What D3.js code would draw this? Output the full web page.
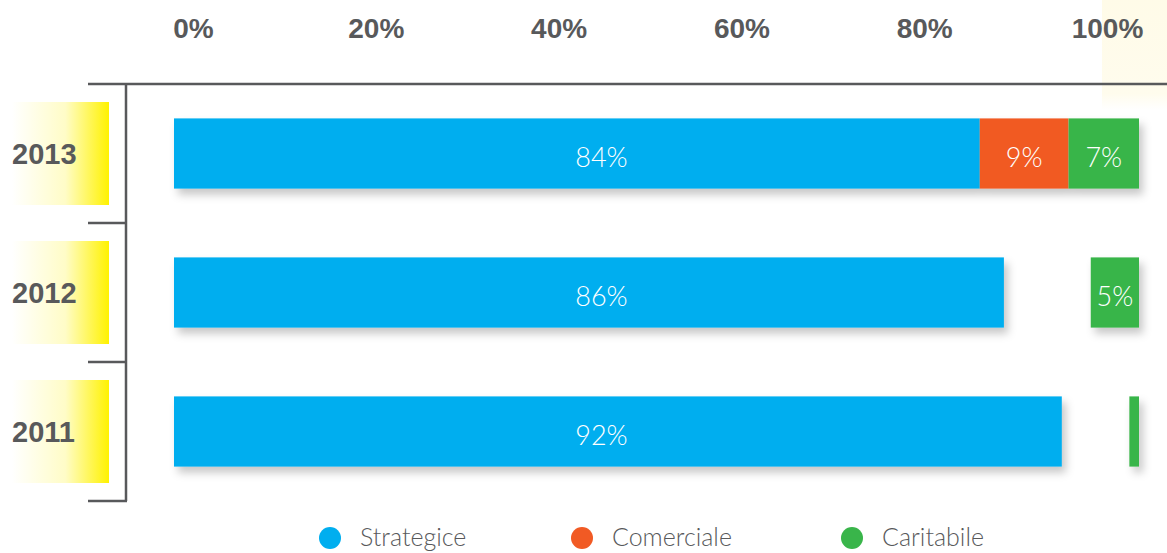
<!DOCTYPE html>
<html><head><meta charset="utf-8">
<script src="https://cdn.jsdelivr.net/npm/d3@7"></script>
<style>html,body{margin:0;padding:0;background:#fff;}svg{display:block;}</style>
</head><body>
<script>
const years = ["2013", "2012", "2011"];
const strategice = [83.5, 86, 92];
const comerciale = [9.2, 0, 0];
const caritabile = [7.3, 5, 1];
const tickValues = [0, 20, 40, 60, 80, 100];
const seriesNames = ["Strategice", "Comerciale", "Caritabile"];
const colors = ["#00aeef", "#f15a24", "#39b54a"];

const W = 1167, H = 553;
const gray = "#58595b";
const svg = d3.select("body").append("svg").attr("width", W).attr("height", H);
const defs = svg.append("defs");
const grad = defs.append("linearGradient").attr("id", "yel").attr("x1", 0).attr("x2", 1).attr("y1", 0).attr("y2", 0);
grad.append("stop").attr("offset", "0%").attr("stop-color", "#fff200").attr("stop-opacity", 0);
grad.append("stop").attr("offset", "55%").attr("stop-color", "#fff200").attr("stop-opacity", 0.22);
grad.append("stop").attr("offset", "100%").attr("stop-color", "#fff200").attr("stop-opacity", 1);
const grad2 = defs.append("linearGradient").attr("id", "yel2").attr("x1", 0).attr("x2", 0).attr("y1", 0).attr("y2", 1);
grad2.append("stop").attr("offset", "0%").attr("stop-color", "#fff6cc").attr("stop-opacity", 0.45);
grad2.append("stop").attr("offset", "85%").attr("stop-color", "#fff6cc").attr("stop-opacity", 0.35);
grad2.append("stop").attr("offset", "100%").attr("stop-color", "#fff6cc").attr("stop-opacity", 0);
const f = defs.append("filter").attr("id", "sh").attr("x", "-10%").attr("y", "-30%").attr("width", "130%").attr("height", "180%");
f.append("feDropShadow").attr("dx", 4).attr("dy", 6).attr("stdDeviation", 4).attr("flood-color", "#000").attr("flood-opacity", 0.22);

// scales
const x = d3.scaleLinear().domain([0, 100]).range([174, 1139]);
const xAxisScale = d3.scaleLinear().domain([0, 100]).range([193, 1107]);
const y = d3.scaleBand().domain(years).range([84, 501]).padding(0);
const barH = y.bandwidth() * 0.505;

// pale yellow decoration top right
svg.append("rect").attr("x", 1102).attr("y", 0).attr("width", W - 1102).attr("height", 110).attr("fill", "url(#yel2)");

// top axis labels
const axis = d3.axisTop(xAxisScale).tickValues(tickValues).tickFormat(d => d + "%").tickSize(0).tickPadding(0);
const ag = svg.append("g").attr("transform", "translate(0,38)").call(axis);
ag.select(".domain").remove();
ag.selectAll("text").attr("fill", gray).attr("font-family", "'Liberation Sans', Arial, sans-serif")
  .attr("font-weight", "bold").attr("font-size", 28).attr("dy", 0);

// yellow boxes behind years
svg.selectAll("rect.yb").data(years).enter().append("rect").attr("class", "yb")
  .attr("x", 12).attr("width", 97)
  .attr("y", d => y(d) + y.bandwidth() / 2 - 51.5).attr("height", 103)
  .attr("fill", "url(#yel)");

// year labels
svg.selectAll("text.yr").data(years).enter().append("text").attr("class", "yr")
  .attr("x", 12).attr("y", d => y(d) + y.bandwidth() / 2 + 10)
  .attr("fill", gray).attr("font-family", "'Liberation Sans', Arial, sans-serif")
  .attr("font-weight", "bold").attr("font-size", 29).text(d => d);

// frame lines
svg.append("line").attr("x1", 88).attr("x2", W).attr("y1", 84).attr("y2", 84).attr("stroke", gray).attr("stroke-width", 2.5);
svg.append("line").attr("x1", 126).attr("x2", 126).attr("y1", 84).attr("y2", 501).attr("stroke", gray).attr("stroke-width", 2.5);
svg.selectAll("line.tk").data(years).enter().append("line").attr("class", "tk")
  .attr("x1", 88).attr("x2", 127).attr("y1", d => y(d) + y.bandwidth()).attr("y2", d => y(d) + y.bandwidth())
  .attr("stroke", gray).attr("stroke-width", 2.5);

// bars
const rows = years.map((yr, i) => ({ yr, s: strategice[i], c: comerciale[i], k: caritabile[i] }));
const segs = [];
rows.forEach(r => {
  segs.push({ yr: r.yr, x0: 0, x1: r.s, v: r.s, col: colors[0] });
  if (r.c > 0) segs.push({ yr: r.yr, x0: r.s, x1: r.s + r.c, v: r.c, col: colors[1] });
  if (r.k > 0) segs.push({ yr: r.yr, x0: 100 - r.k, x1: 100, v: r.k, col: colors[2] });
});
const bg = svg.append("g").attr("filter", "url(#sh)");
bg.selectAll("rect").data(segs).enter().append("rect")
  .attr("x", d => x(d.x0)).attr("width", d => x(d.x1) - x(d.x0))
  .attr("y", d => y(d.yr) + (y.bandwidth() - barH) / 2).attr("height", barH)
  .attr("fill", d => d.col);

// value labels
const lblFont = "Lato, 'Open Sans', sans-serif";
svg.selectAll("text.val").data(segs.filter(d => d.v >= 3)).enter().append("text").attr("class", "val")
  .attr("x", d => d.col === colors[0] ? x(44.3) : (x(d.x0) + x(d.x1)) / 2)
  .attr("y", d => y(d.yr) + y.bandwidth() / 2 + 13)
  .attr("text-anchor", "middle").attr("fill", "#fff")
  .attr("font-family", lblFont).attr("font-weight", 300).attr("font-size", 27)
  .text(d => Math.round(d.v) + "%");

// legend
const legX = [330, 582, 852];
const lg = svg.selectAll("g.lg").data(seriesNames).enter().append("g").attr("class", "lg")
  .attr("transform", (d, i) => `translate(${legX[i]},538)`);
lg.append("circle").attr("r", 11).attr("fill", (d, i) => colors[i]);
lg.append("text").attr("x", 30).attr("y", 8).attr("fill", gray)
  .attr("font-family", lblFont).attr("font-weight", 300).attr("font-size", 25).text(d => d);
</script>
</body></html>
